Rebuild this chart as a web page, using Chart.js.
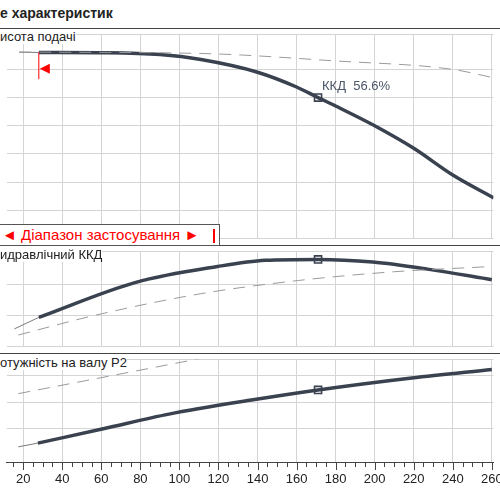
<!DOCTYPE html>
<html>
<head>
<meta charset="utf-8">
<script src="https://cdn.jsdelivr.net/npm/chart.js@4/dist/chart.umd.min.js"></script>
<style>
  body { margin: 0; background: #fff; font-family: "Liberation Sans", Arial, sans-serif; }
  #wrap { position: relative; width: 500px; height: 500px; overflow: hidden; }
  canvas { position: absolute; left: 0; }
  .lbl { position: absolute; font-size: 13px; color: #222; white-space: nowrap; }
  .hline { position: absolute; left: 0; width: 500px; height: 1px; background: #444; }
</style>
</head>
<body>
<div id="wrap">
  <div class="lbl" style="left:0;top:5px;font-weight:bold;font-size:14px;">е характеристик</div>
  <canvas id="c1" style="top:28px" width="500" height="217"></canvas>
  <canvas id="c2" style="top:245px" width="500" height="108"></canvas>
  <canvas id="c3" style="top:353px" width="500" height="147"></canvas>
  <div class="hline" style="top:28px"></div>
  <div class="hline" style="top:245px"></div>
  <div class="hline" style="top:353px"></div>
  <div style="position:absolute;left:-1px;top:224px;width:219px;height:20px;border:1px solid #555;background:#fff;"></div>
  <div class="lbl" style="left:2px;top:226px;color:#f00;font-size:15px;">◄ Діапазон застосування ►</div>
  <div style="position:absolute;left:213px;top:229px;width:2px;height:14px;background:#f00;"></div>
  <div class="lbl" style="left:0;top:29px;background:#fff;">исота подачі</div>
  <div class="lbl" style="left:0;top:247px;background:#fff;">идравлічний ККД</div>
  <div class="lbl" style="left:0;top:355px;background:#fff;">отужність на валу P2</div>
  <div class="lbl" style="left:322px;top:78px;color:#4a5568;">ККД&nbsp;&nbsp;56.6%</div>
</div>
<script>
// ---- Data ----
const X_MIN = 11.5, X_MAX = 260.8;
const DUTY_Q = 171;

// head curve (within range) and its thin extension, dashed reference
const headQ = [28, 60, 90, 111, 140, 160, 171, 180, 200, 220, 240, 261];
const headH = [13.2, 13.18, 13.05, 12.7, 11.8, 10.75, 10.0, 9.4, 8.0, 6.4, 4.5, 2.87];
const headExtQ = [18, 28];
const headExtH = [13.22, 13.2];
const headDashQ = [18, 111, 180, 240, 261];
const headDashH = [13.23, 13.13, 12.6, 12.0, 11.4];
const headDuty = 10.0;

// efficiency, %
const effQ = [28, 77.7, 119.5, 144, 171, 199, 227, 260];
const effV = [18.9, 41.7, 52, 56, 56.6, 54.9, 50.3, 43.4];
const effExtQ = [15.5, 28];
const effExtV = [11.4, 18.9];
const effDashQ = [17.5, 56, 111, 161, 210, 260];
const effDashV = [7.4, 20, 34.3, 42.9, 48.6, 52];

// shaft power P2
const powQ = [27.5, 61, 94.6, 136, 171, 219, 260];
const powV = [1.46, 2.0, 2.55, 3.07, 3.46, 3.91, 4.23];
const powExtQ = [17.5, 27.5];
const powExtV = [1.32, 1.46];
const powDashQ = [17.5, 101.5, 140];
const powDashV = [3.32, 4.51, 5.06];
const powDuty = 3.46;

const xTicks = [20, 40, 60, 80, 100, 120, 140, 160, 180, 200, 220, 240, 260];

// ---- Helpers ----
const pts = (xs, ys) => xs.map((x, i) => ({ x, y: ys[i] }));
const GRID = '#d4d4d4';
const CURVE = '#3a4250';

function series(q, v, extQ, extV, dashQ, dashV, dutyY) {
  return [
    { data: pts(dashQ, dashV), borderColor: '#9a9a9a', borderWidth: 1, borderDash: [12, 8], pointRadius: 0, cubicInterpolationMode: 'monotone' },
    { data: pts(extQ, extV), borderColor: '#7a7a7a', borderWidth: 1, pointRadius: 0 },
    { data: pts(q, v), borderColor: CURVE, borderWidth: 3.5, pointRadius: 0, cubicInterpolationMode: 'monotone' },
    { data: [{ x: DUTY_Q, y: dutyY }], showLine: false, pointStyle: 'rect', pointRadius: 5,
      pointBackgroundColor: '#fff', pointBorderColor: CURVE, pointBorderWidth: 1.6 }
  ];
}

function makeChart(id, datasets, yMin, yMax, yStep, bottom, extraPlugins) {
  const xScale = {
    type: 'linear', min: X_MIN, max: X_MAX,
    grid: { color: GRID, drawTicks: false },
    border: { display: bottom, color: '#444' },
    ticks: { display: false, stepSize: 20 },
    afterBuildTicks: (s) => { s.ticks = xTicks.map(v => ({ value: v })); },
    afterFit: (s) => { s.height = bottom ? 38 : 0; }
  };
  return new Chart(document.getElementById(id), {
    type: 'line',
    data: { datasets },
    options: {
      responsive: false, animation: false,
      layout: { padding: 0 },
      plugins: { legend: { display: false }, tooltip: { enabled: false } },
      scales: {
        x: xScale,
        y: {
          min: yMin, max: yMax,
          ticks: { display: false, stepSize: yStep },
          grid: { color: GRID, drawTicks: false },
          border: { display: false },
          afterFit: (s) => { s.width = 0; }
        }
      }
    },
    plugins: extraPlugins || []
  });
}

// red "range start" marker on the head panel
const rangeMarker = {
  id: 'rangeMarker',
  afterDatasetsDraw(chart) {
    const { ctx, scales: { x, y } } = chart;
    const px = x.getPixelForValue(28);
    ctx.save();
    ctx.strokeStyle = '#f00'; ctx.fillStyle = '#f00'; ctx.lineWidth = 1;
    ctx.beginPath(); ctx.moveTo(px, y.getPixelForValue(13.2)); ctx.lineTo(px, y.getPixelForValue(11.3)); ctx.stroke();
    const ty = y.getPixelForValue(12.05);
    ctx.beginPath(); ctx.moveTo(px + 1, ty); ctx.lineTo(px + 11, ty - 5); ctx.lineTo(px + 11, ty + 5); ctx.closePath(); ctx.fill();
    ctx.restore();
  }
};

// bottom axis: major ticks + labels every 20, minor ticks every 5
const bottomAxis = {
  id: 'bottomAxis',
  afterDraw(chart) {
    const { ctx, scales: { x }, chartArea } = chart;
    const b = chartArea.bottom;
    ctx.save();
    ctx.strokeStyle = '#444'; ctx.lineWidth = 1;
    for (let v = 15; v <= 260; v += 5) {
      const px = Math.round(x.getPixelForValue(v)) + 0.5;
      ctx.beginPath(); ctx.moveTo(px, b); ctx.lineTo(px, b + (v % 20 === 0 ? 8 : 5)); ctx.stroke();
    }
    ctx.fillStyle = '#222';
    ctx.font = '13px "Liberation Sans", Arial, sans-serif';
    ctx.textAlign = 'center'; ctx.textBaseline = 'top';
    xTicks.forEach(v => ctx.fillText(String(v), x.getPixelForValue(v), b + 11));
    ctx.restore();
  }
};

makeChart('c1', series(headQ, headH, headExtQ, headExtH, headDashQ, headDashH, headDuty), 0, 14.47, 2, false, [rangeMarker]);
makeChart('c2', series(effQ, effV, effExtQ, effExtV, effDashQ, effDashV, 56.6), 0, 61.7, 20, false);
makeChart('c3', series(powQ, powV, powExtQ, powExtV, powDashQ, powDashV, powDuty), 0.75, 4.6, 1, true, [bottomAxis]);
</script>
</body>
</html>
